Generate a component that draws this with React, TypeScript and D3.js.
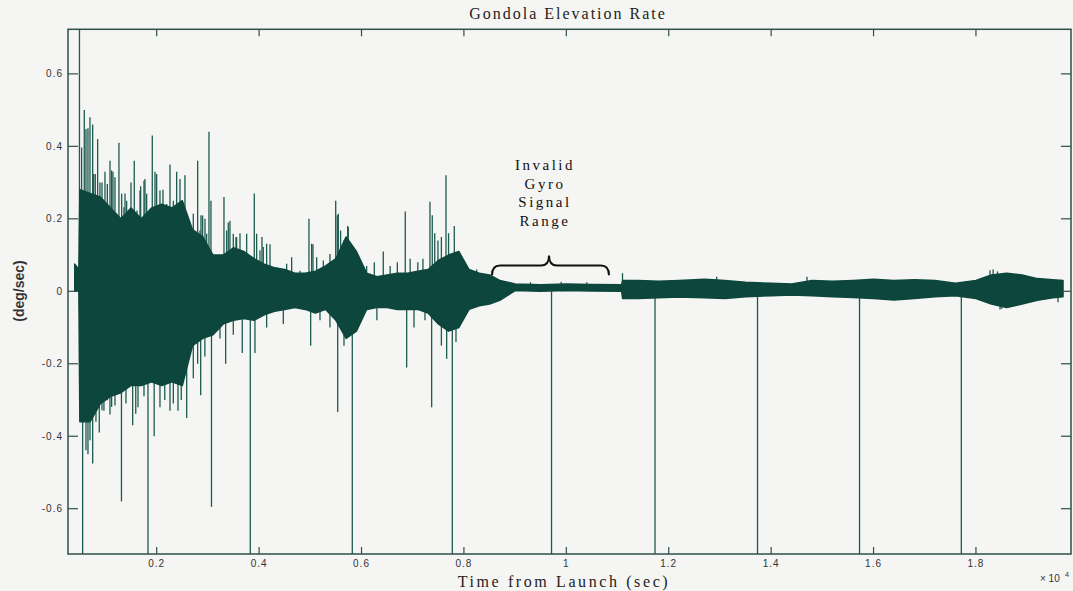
import React from 'react';
import * as d3 from 'd3';

const W = 1073;
const H = 591;

// ---- axis ticks ----
const xTickValues = [2000, 4000, 6000, 8000, 10000, 12000, 14000, 16000, 18000];
const xTickLabels = ['0.2', '0.4', '0.6', '0.8', '1', '1.2', '1.4', '1.6', '1.8'];
const yTickValues = [0.6, 0.4, 0.2, 0, -0.2, -0.4, -0.6];
const yTickLabels = ['0.6', '0.4', '0.2', '0', '-0.2', '-0.4', '-0.6'];

// ---- signal envelope (time in s, max / min of the dense trace in deg/sec) ----
const envTime = [
  400, 480,
  500, 700, 900, 1100, 1300, 1500, 1700, 1900, 2100, 2300,
  2500, 2700, 2900, 3100, 3300, 3500, 3700, 3900, 4100, 4300,
  4500, 4700, 4900, 5100, 5300, 5500, 5700, 5900, 6100, 6300,
  6500, 6700, 6900, 7100, 7300, 7500, 7700, 7900, 8100, 8300,
  8500, 8700,
  9000, 9500, 10000, 10500, 11080,
  11100, 11400, 11800, 12200, 12700, 13100, 13500, 14000, 14400, 14800, 15200, 15600,
  16000, 16400, 16800, 17200, 17600, 18000, 18300, 18600, 18900, 19200, 19500, 19700,
];
const envHigh = [
  0.075, 0.06,
  0.28, 0.27, 0.26, 0.23, 0.20, 0.23, 0.20, 0.23, 0.24, 0.23,
  0.25, 0.17, 0.15, 0.10, 0.10, 0.12, 0.11, 0.09, 0.075, 0.065,
  0.06, 0.05, 0.05, 0.055, 0.07, 0.09, 0.15, 0.11, 0.05, 0.04,
  0.045, 0.05, 0.05, 0.055, 0.06, 0.085, 0.10, 0.11, 0.06, 0.05,
  0.045, 0.03,
  0.02, 0.018, 0.02, 0.019, 0.018,
  0.03, 0.03, 0.028, 0.03, 0.033, 0.03, 0.025, 0.022, 0.02, 0.03, 0.028, 0.03,
  0.033, 0.03, 0.032, 0.03, 0.022, 0.03, 0.045, 0.05, 0.045, 0.035, 0.032, 0.03,
];
const envLow = [
  0.0, 0.0,
  -0.36, -0.36, -0.31, -0.29, -0.28, -0.26, -0.26, -0.25, -0.26, -0.25,
  -0.26, -0.15, -0.13, -0.12, -0.09, -0.08, -0.075, -0.08, -0.065, -0.055,
  -0.05, -0.045, -0.05, -0.06, -0.05, -0.08, -0.13, -0.11, -0.05, -0.045,
  -0.045, -0.05, -0.05, -0.05, -0.06, -0.09, -0.11, -0.10, -0.05, -0.04,
  -0.035, -0.025,
  0.002, 0.0, 0.002, 0.001, 0.0,
  -0.02, -0.02, -0.018, -0.016, -0.018, -0.02, -0.015, -0.012, -0.01, -0.012, -0.015, -0.017,
  -0.02, -0.024, -0.02, -0.015, -0.012, -0.02, -0.035, -0.045, -0.035, -0.025, -0.018, -0.015,
];

// ---- individual peaks of the trace ----
const upSpikeTime = [
  492, 534, 586, 619, 658, 697, 750, 769, 801, 847, 892, 932, 990, 1036, 1088, 1120, 1146,
  1185, 1263, 1316, 1361, 1381, 1413, 1498, 1562, 1615, 1674, 1687, 1752, 1771, 1804,
  1914, 1967, 1999, 2064, 2123, 2194, 2260, 2325, 2390, 2455, 2552, 2637, 2715, 2800,
  2845, 2865, 2897, 2943, 2976, 3021, 3060, 3138, 3236, 3314, 3366, 3398, 3431, 3496,
  3548, 3561, 3627, 3757, 3906, 3952, 4017, 4056, 4082, 4147, 4213, 4343, 4538, 4636,
  4798, 4974, 5026, 5052, 5124, 5254, 5384, 5496, 5527, 5547, 5592, 5658, 5730, 5742,
  5840, 5905, 6100, 6250, 6425, 6560, 6700, 6855, 6950, 7100, 7200, 7337, 7382, 7430,
  7493, 7560, 7650, 7700, 7812, 7900, 8050, 8250,
  9300, 9900, 10400, 11097, 12936, 14700, 18274, 18335, 18420,
];
const upSpikeValue = [
  0.8, 0.397, 0.50, 0.448, 0.45, 0.48, 0.46, 0.324, 0.324, 0.42, 0.30, 0.30, 0.33, 0.296, 0.36, 0.333, 0.33,
  0.315, 0.41, 0.269, 0.232, 0.27, 0.25, 0.30, 0.36, 0.223, 0.278, 0.29, 0.305, 0.31, 0.269,
  0.43, 0.33, 0.324, 0.278, 0.28, 0.241, 0.35, 0.25, 0.33, 0.31, 0.32, 0.177, 0.214, 0.36,
  0.168, 0.21, 0.209, 0.20, 0.159, 0.44, 0.25, 0.094, 0.085, 0.26, 0.168, 0.19, 0.195, 0.159,
  0.15, 0.149, 0.16, 0.159, 0.27, 0.159, 0.113, 0.15, 0.122, 0.131, 0.13, 0.067, 0.076, 0.094,
  0.057, 0.20, 0.131, 0.13, 0.094, 0.085, 0.103, 0.25, 0.21, 0.214, 0.168, 0.14, 0.18, 0.177,
  0.122, 0.085, 0.07, 0.08, 0.11, 0.07, 0.08, 0.22, 0.09, 0.08, 0.09, 0.247, 0.21, 0.16,
  0.14, 0.15, 0.32, 0.16, 0.18, 0.10, 0.07, 0.06,
  0.025, 0.026, 0.025, 0.05, 0.04, 0.04, 0.058, 0.06, 0.055,
];
const downSpikeTime = [
  554, 619, 658, 697, 750, 814, 879, 932, 970, 1036, 1088, 1120, 1185, 1312, 1400, 1531,
  1591, 1635, 1752, 1830, 1951, 2064, 2158, 2260, 2325, 2416, 2480, 2586, 2715, 2800,
  2859, 2941, 3070, 3236, 3347, 3496, 3671, 3828, 3919, 4147, 4473, 5007, 5189, 5384,
  5535, 5658, 5820, 6300, 6882, 7025, 7240, 7370, 7560, 7663, 7773, 7845, 8000,
  9711, 11732, 13734, 15726, 17714, 18470, 18503, 19602,
];
const downSpikeValue = [
  -0.8, -0.439, -0.45, -0.411, -0.475, -0.36, -0.39, -0.328, -0.33, -0.301, -0.34, -0.319, -0.315, -0.58, -0.31, -0.37,
  -0.338, -0.32, -0.29, -0.8, -0.40, -0.32, -0.30, -0.33, -0.31, -0.33, -0.30, -0.35, -0.24, -0.20,
  -0.287, -0.18, -0.595, -0.13, -0.20, -0.12, -0.17, -0.8, -0.17, -0.10, -0.09, -0.15, -0.08, -0.10,
  -0.333, -0.15, -0.8, -0.08, -0.21, -0.10, -0.08, -0.32, -0.15, -0.186, -0.8, -0.14, -0.07,
  -0.8, -0.8, -0.8, -0.8, -0.8, -0.05, -0.048, -0.03,
];

// ---- annotation ----
const annotationLines = ['Invalid', 'Gyro', 'Signal', 'Range'];
const braceStart = 8548;
const braceEnd = 10833;
const braceTip = 9662;

const TRACE = '#0d463c';
const SPIKE = '#1d5a4f';
const FRAME = '#2f4f49';

export default function App() {
  const left = 68, right = 1071, top = 29.3, bottom = 554;
  const x = d3.scaleLinear().domain([268, 19856]).range([left, right]);
  const y = d3.scaleLinear().domain([-0.725, 0.723]).range([bottom, top]);

  const env = envTime.map((t, i) => ({ t, hi: envHigh[i], lo: envLow[i] }));
  const area = d3
    .area<{ t: number; hi: number; lo: number }>()
    .x((d) => x(d.t))
    .y0((d) => y(d.lo))
    .y1((d) => y(d.hi));

  const ups = upSpikeTime.map((t, i) => ({ t, v: upSpikeValue[i] }));
  const downs = downSpikeTime.map((t, i) => ({ t, v: downSpikeValue[i] }));

  const bx1 = x(braceStart), bx2 = x(braceEnd), bxm = x(braceTip);
  const yb = y(0.071), yt = y(0.099), ye = y(0.044);
  const r = 8;
  const brace = `M${bx1},${ye} Q${bx1},${yb} ${bx1 + r},${yb} L${bxm - r},${yb} Q${bxm},${yb} ${bxm},${yt} Q${bxm},${yb} ${bxm + r},${yb} L${bx2 - r},${yb} Q${bx2},${yb} ${bx2},${ye}`;

  const serif = '"Liberation Serif", "Times New Roman", serif';
  const sans = '"Liberation Sans", Arial, sans-serif';

  return (
    <svg
      width={W}
      height={H}
      style={{ position: 'absolute', left: 0, top: 0, display: 'block' }}
    >
      <rect x={0} y={0} width={W} height={H} fill="#f5f5f3" />
      <defs>
        <clipPath id="plotClip">
          <rect x={left} y={top} width={right - left} height={bottom - top} />
        </clipPath>
      </defs>

      <g clipPath="url(#plotClip)">
        {ups.map((d, i) => (
          <line key={'u' + i} x1={x(d.t)} x2={x(d.t)} y1={y(0)} y2={y(d.v)} stroke={SPIKE} strokeWidth={1.3} />
        ))}
        {downs.map((d, i) => (
          <line key={'d' + i} x1={x(d.t)} x2={x(d.t)} y1={y(0)} y2={y(d.v)} stroke={SPIKE} strokeWidth={1.3} />
        ))}
        <path d={area(env) || ''} fill={TRACE} stroke={TRACE} strokeWidth={1.5} strokeLinejoin="round" />
      </g>

      {/* frame */}
      <rect x={left} y={top} width={right - left} height={bottom - top} fill="none" stroke={FRAME} strokeWidth={1.5} />

      {/* x ticks */}
      {xTickValues.map((v, i) => (
        <g key={'xt' + i}>
          <line x1={x(v)} x2={x(v)} y1={bottom} y2={bottom - 7} stroke={FRAME} strokeWidth={1.2} />
          <line x1={x(v)} x2={x(v)} y1={top} y2={top + 7} stroke={FRAME} strokeWidth={1.2} />
          <text x={x(v)} y={567} textAnchor="middle" fontFamily={sans} fontSize={10} fill="#333" letterSpacing={1}>
            {xTickLabels[i]}
          </text>
        </g>
      ))}
      {/* y ticks */}
      {yTickValues.map((v, i) => (
        <g key={'yt' + i}>
          <line x1={left} x2={left + 10} y1={y(v)} y2={y(v)} stroke={FRAME} strokeWidth={1.2} />
          <line x1={right} x2={right - 10} y1={y(v)} y2={y(v)} stroke={FRAME} strokeWidth={1.2} />
          <text x={63} y={y(v) + 3.5} textAnchor="end" fontFamily={sans} fontSize={10} fill="#333" letterSpacing={1}>
            {yTickLabels[i]}
          </text>
        </g>
      ))}

      {/* exponent */}
      <text x={1040} y={582} fontFamily={sans} fontSize={10} fill="#333">
        × 10
      </text>
      <text x={1065} y={577} fontFamily={sans} fontSize={7} fill="#333">
        4
      </text>

      {/* title and labels */}
      <text x={568} y={19} textAnchor="middle" fontFamily={serif} fontSize={16} letterSpacing={2} fill="#222">
        Gondola Elevation Rate
      </text>
      <text x={564} y={587} textAnchor="middle" fontFamily={serif} fontSize={16} letterSpacing={2.6} fill="#222">
        Time from Launch (sec)
      </text>
      <text
        transform="translate(24,291) rotate(-90)"
        textAnchor="middle"
        fontFamily={sans}
        fontSize={14}
        fontWeight="bold"
        fill="#333"
      >
        (deg/sec)
      </text>

      {/* annotation */}
      {annotationLines.map((s, i) => (
        <text
          key={'a' + i}
          x={545}
          y={170 + i * 18.6}
          textAnchor="middle"
          fontFamily={serif}
          fontSize={15}
          letterSpacing={2.5}
          fill="#111"
        >
          {s}
        </text>
      ))}
      <path d={brace} fill="none" stroke="#111" strokeWidth={2} />
    </svg>
  );
}
